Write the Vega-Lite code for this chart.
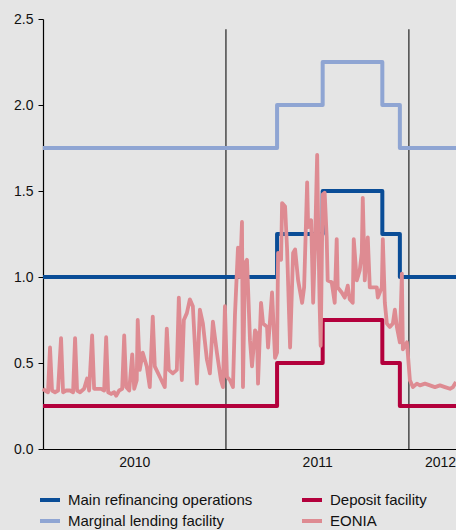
{
  "$schema": "https://vega.github.io/schema/vega-lite/v6.json",
  "width": 413,
  "height": 430,
  "autosize": {"type": "none"},
  "padding": {"left": 43, "top": 19, "right": 0, "bottom": 81},
  "background": "#e5e5e5",
  "config": {
    "view": {"stroke": null},
    "font": "Liberation Sans",
    "axis": {"labelFont": "Liberation Sans", "labelColor": "#111", "labelFontSize": 14, "domainColor": "#000", "tickColor": "#000", "grid": false, "title": null},
    "legend": {"labelFont": "Liberation Sans", "labelFontSize": 15, "labelColor": "#111"}
  },
  "datasets": {
    "policy": [
      {"date": "2010-01-01", "series": "Main refinancing operations", "rate": 1.0},
      {"date": "2011-04-13", "series": "Main refinancing operations", "rate": 1.25},
      {"date": "2011-07-13", "series": "Main refinancing operations", "rate": 1.5},
      {"date": "2011-11-09", "series": "Main refinancing operations", "rate": 1.25},
      {"date": "2011-12-14", "series": "Main refinancing operations", "rate": 1.0},
      {"date": "2012-04-04", "series": "Main refinancing operations", "rate": 1.0},
      {"date": "2010-01-01", "series": "Marginal lending facility", "rate": 1.75},
      {"date": "2011-04-13", "series": "Marginal lending facility", "rate": 2.0},
      {"date": "2011-07-13", "series": "Marginal lending facility", "rate": 2.25},
      {"date": "2011-11-09", "series": "Marginal lending facility", "rate": 2.0},
      {"date": "2011-12-14", "series": "Marginal lending facility", "rate": 1.75},
      {"date": "2012-04-04", "series": "Marginal lending facility", "rate": 1.75},
      {"date": "2010-01-01", "series": "Deposit facility", "rate": 0.25},
      {"date": "2011-04-13", "series": "Deposit facility", "rate": 0.5},
      {"date": "2011-07-13", "series": "Deposit facility", "rate": 0.75},
      {"date": "2011-11-09", "series": "Deposit facility", "rate": 0.5},
      {"date": "2011-12-14", "series": "Deposit facility", "rate": 0.25},
      {"date": "2012-04-04", "series": "Deposit facility", "rate": 0.25}
    ],
    "eonia": [
      {"date": "2010-01-01", "rate": 0.35}, {"date": "2010-01-05", "rate": 0.34}, {"date": "2010-01-11", "rate": 0.33},
      {"date": "2010-01-15", "rate": 0.59}, {"date": "2010-01-19", "rate": 0.34}, {"date": "2010-01-25", "rate": 0.33},
      {"date": "2010-01-31", "rate": 0.34}, {"date": "2010-02-06", "rate": 0.645}, {"date": "2010-02-10", "rate": 0.33},
      {"date": "2010-02-16", "rate": 0.34}, {"date": "2010-02-24", "rate": 0.34}, {"date": "2010-03-02", "rate": 0.33},
      {"date": "2010-03-06", "rate": 0.645}, {"date": "2010-03-10", "rate": 0.34}, {"date": "2010-03-16", "rate": 0.33},
      {"date": "2010-03-24", "rate": 0.35}, {"date": "2010-03-30", "rate": 0.41}, {"date": "2010-04-03", "rate": 0.34},
      {"date": "2010-04-09", "rate": 0.66}, {"date": "2010-04-13", "rate": 0.35}, {"date": "2010-04-21", "rate": 0.35},
      {"date": "2010-04-27", "rate": 0.35}, {"date": "2010-05-03", "rate": 0.34}, {"date": "2010-05-07", "rate": 0.65},
      {"date": "2010-05-11", "rate": 0.33}, {"date": "2010-05-17", "rate": 0.32}, {"date": "2010-05-23", "rate": 0.33},
      {"date": "2010-05-27", "rate": 0.31}, {"date": "2010-06-02", "rate": 0.34}, {"date": "2010-06-08", "rate": 0.35},
      {"date": "2010-06-12", "rate": 0.66}, {"date": "2010-06-16", "rate": 0.36}, {"date": "2010-06-22", "rate": 0.34},
      {"date": "2010-06-28", "rate": 0.55}, {"date": "2010-07-02", "rate": 0.35}, {"date": "2010-07-07", "rate": 0.40},
      {"date": "2010-07-09", "rate": 0.75}, {"date": "2010-07-13", "rate": 0.46}, {"date": "2010-07-19", "rate": 0.56},
      {"date": "2010-07-27", "rate": 0.48}, {"date": "2010-08-02", "rate": 0.36}, {"date": "2010-08-08", "rate": 0.77},
      {"date": "2010-08-12", "rate": 0.48}, {"date": "2010-08-22", "rate": 0.42}, {"date": "2010-09-01", "rate": 0.36},
      {"date": "2010-09-05", "rate": 0.70}, {"date": "2010-09-09", "rate": 0.46}, {"date": "2010-09-17", "rate": 0.44},
      {"date": "2010-09-25", "rate": 0.46}, {"date": "2010-09-29", "rate": 0.88}, {"date": "2010-10-05", "rate": 0.40},
      {"date": "2010-10-09", "rate": 0.75}, {"date": "2010-10-15", "rate": 0.79}, {"date": "2010-10-21", "rate": 0.87},
      {"date": "2010-10-27", "rate": 0.83}, {"date": "2010-11-04", "rate": 0.38}, {"date": "2010-11-10", "rate": 0.81},
      {"date": "2010-11-16", "rate": 0.73}, {"date": "2010-11-24", "rate": 0.52}, {"date": "2010-11-30", "rate": 0.44},
      {"date": "2010-12-06", "rate": 0.74}, {"date": "2010-12-14", "rate": 0.56}, {"date": "2010-12-22", "rate": 0.40},
      {"date": "2010-12-26", "rate": 0.36}, {"date": "2010-12-30", "rate": 0.83}, {"date": "2011-01-03", "rate": 0.42},
      {"date": "2011-01-09", "rate": 0.40}, {"date": "2011-01-15", "rate": 0.36}, {"date": "2011-01-19", "rate": 0.78},
      {"date": "2011-01-25", "rate": 1.17}, {"date": "2011-01-29", "rate": 1.0}, {"date": "2011-02-02", "rate": 1.32},
      {"date": "2011-02-04", "rate": 0.36}, {"date": "2011-02-08", "rate": 1.08}, {"date": "2011-02-12", "rate": 1.10},
      {"date": "2011-02-18", "rate": 0.63}, {"date": "2011-02-22", "rate": 0.48}, {"date": "2011-02-28", "rate": 0.69},
      {"date": "2011-03-04", "rate": 0.67}, {"date": "2011-03-06", "rate": 0.38}, {"date": "2011-03-12", "rate": 0.85},
      {"date": "2011-03-16", "rate": 0.73}, {"date": "2011-03-24", "rate": 0.71}, {"date": "2011-03-26", "rate": 0.59},
      {"date": "2011-04-03", "rate": 0.91}, {"date": "2011-04-09", "rate": 0.53}, {"date": "2011-04-13", "rate": 0.56},
      {"date": "2011-04-15", "rate": 1.14}, {"date": "2011-04-21", "rate": 1.10}, {"date": "2011-04-23", "rate": 1.43},
      {"date": "2011-04-29", "rate": 1.41}, {"date": "2011-05-03", "rate": 1.16}, {"date": "2011-05-09", "rate": 0.59},
      {"date": "2011-05-15", "rate": 1.14}, {"date": "2011-05-19", "rate": 1.16}, {"date": "2011-05-25", "rate": 0.98},
      {"date": "2011-06-02", "rate": 0.85}, {"date": "2011-06-06", "rate": 0.94}, {"date": "2011-06-12", "rate": 1.55},
      {"date": "2011-06-14", "rate": 1.29}, {"date": "2011-06-20", "rate": 1.33}, {"date": "2011-06-24", "rate": 0.85},
      {"date": "2011-06-28", "rate": 1.22}, {"date": "2011-07-02", "rate": 1.71}, {"date": "2011-07-04", "rate": 1.31},
      {"date": "2011-07-07", "rate": 0.83}, {"date": "2011-07-09", "rate": 0.60}, {"date": "2011-07-13", "rate": 1.48},
      {"date": "2011-07-17", "rate": 1.49}, {"date": "2011-07-21", "rate": 1.23}, {"date": "2011-07-23", "rate": 0.98},
      {"date": "2011-07-31", "rate": 0.97}, {"date": "2011-08-06", "rate": 0.85}, {"date": "2011-08-10", "rate": 1.22},
      {"date": "2011-08-12", "rate": 0.94}, {"date": "2011-08-20", "rate": 0.91}, {"date": "2011-08-26", "rate": 0.88},
      {"date": "2011-09-01", "rate": 0.95}, {"date": "2011-09-05", "rate": 0.87}, {"date": "2011-09-11", "rate": 0.85},
      {"date": "2011-09-13", "rate": 1.22}, {"date": "2011-09-19", "rate": 0.98}, {"date": "2011-09-25", "rate": 1.04},
      {"date": "2011-09-29", "rate": 1.14}, {"date": "2011-10-01", "rate": 1.46}, {"date": "2011-10-05", "rate": 0.98},
      {"date": "2011-10-11", "rate": 1.23}, {"date": "2011-10-15", "rate": 0.94}, {"date": "2011-10-21", "rate": 0.94},
      {"date": "2011-10-29", "rate": 0.94}, {"date": "2011-10-31", "rate": 0.88}, {"date": "2011-11-08", "rate": 0.94},
      {"date": "2011-11-10", "rate": 1.22}, {"date": "2011-11-14", "rate": 0.85}, {"date": "2011-11-18", "rate": 0.73},
      {"date": "2011-11-24", "rate": 0.71}, {"date": "2011-11-30", "rate": 0.73}, {"date": "2011-12-04", "rate": 0.81},
      {"date": "2011-12-08", "rate": 0.71}, {"date": "2011-12-14", "rate": 0.62}, {"date": "2011-12-18", "rate": 1.02},
      {"date": "2011-12-20", "rate": 0.58}, {"date": "2011-12-28", "rate": 0.62}, {"date": "2011-12-30", "rate": 0.55},
      {"date": "2012-01-03", "rate": 0.40}, {"date": "2012-01-09", "rate": 0.36}, {"date": "2012-01-17", "rate": 0.38},
      {"date": "2012-01-23", "rate": 0.37}, {"date": "2012-02-02", "rate": 0.38}, {"date": "2012-02-12", "rate": 0.37},
      {"date": "2012-02-22", "rate": 0.36}, {"date": "2012-03-03", "rate": 0.37}, {"date": "2012-03-13", "rate": 0.36},
      {"date": "2012-03-23", "rate": 0.35}, {"date": "2012-03-29", "rate": 0.36}, {"date": "2012-04-04", "rate": 0.39}
    ],
    "years": [{"date": "2011-01-01"}, {"date": "2012-01-01"}]
  },
  "encoding": {
    "x": {
      "field": "date",
      "type": "temporal",
      "scale": {"type": "utc", "domain": [{"year": 2010, "month": 1, "date": 1, "utc": true}, {"year": 2012, "month": 4, "date": 4, "utc": true}], "nice": false},
      "axis": {
        "values": [{"year": 2010, "month": 7, "date": 2, "utc": true}, {"year": 2011, "month": 7, "date": 2, "utc": true}, {"year": 2012, "month": 3, "date": 3, "utc": true}],
        "format": "%Y",
        "ticks": false,
        "labelPadding": 6,
        "labelFontSize": 14,
        "domainWidth": 1.2
      }
    }
  },
  "layer": [
    {
      "data": {"name": "years"},
      "mark": {"type": "rule", "color": "#222", "strokeWidth": 1.2},
      "encoding": {"y": {"datum": 0, "type": "quantitative", "scale": {"domain": [0, 2.5], "nice": false}}, "y2": {"datum": 2.44}}
    },
    {
      "data": {"name": "policy"},
      "mark": {"type": "line", "interpolate": "step-after", "strokeWidth": 4, "strokeJoin": "round"},
      "encoding": {
        "y": {"field": "rate", "type": "quantitative"},
        "color": {"field": "series", "type": "nominal"}
      }
    },
    {
      "data": {"name": "eonia"},
      "transform": [{"calculate": "'EONIA'", "as": "series"}],
      "mark": {"type": "line", "strokeWidth": 3.8, "strokeJoin": "round"},
      "encoding": {
        "y": {"field": "rate", "type": "quantitative", "scale": {"domain": [0, 2.5], "nice": false}, "axis": {"values": [0, 0.5, 1, 1.5, 2, 2.5], "format": ".1f", "tickSize": 5, "labelPadding": 5, "domainWidth": 1.2, "labelFontSize": 14}},
        "color": {
          "field": "series",
          "type": "nominal",
          "scale": {
            "domain": ["Main refinancing operations", "Marginal lending facility", "Deposit facility", "EONIA"],
            "range": ["#0a4d97", "#8fa5d3", "#b3003c", "#de8b92"]
          },
          "legend": {
            "title": null,
            "orient": "none",
            "legendX": -5,
            "legendY": 469,
            "columns": 2,
            "columnPadding": 41,
            "rowPadding": 1,
            "symbolType": "stroke",
            "symbolStrokeWidth": 4,
            "symbolSize": 400,
            "labelOffset": 6,
            "labelLimit": 300
          }
        }
      }
    }
  ],
  "resolve": {"scale": {"color": "shared", "y": "shared"}}
}
